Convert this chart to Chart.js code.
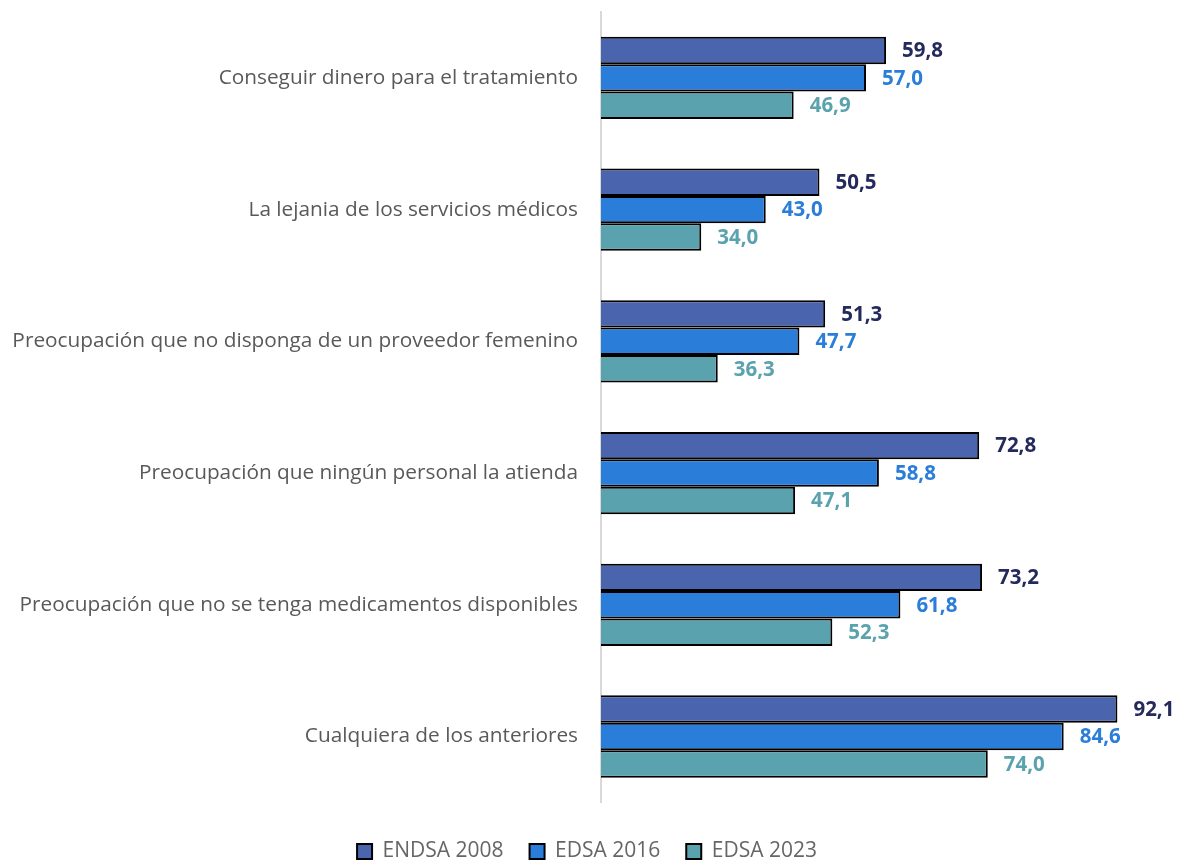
<!DOCTYPE html>
<html>
<head>
<meta charset="utf-8">
<script src="https://cdn.jsdelivr.net/npm/chart.js@4/dist/chart.umd.min.js"></script>
<style>
  body { margin: 0; background: #fff; }
  canvas { display: block; }
</style>
</head>
<body>
<canvas id="chart" width="1179" height="860"></canvas>
<script>
const categories = [
  "Conseguir dinero para el tratamiento",
  "La lejania de los servicios médicos",
  "Preocupación que no disponga de un proveedor femenino",
  "Preocupación que ningún personal la atienda",
  "Preocupación que no se tenga medicamentos disponibles",
  "Cualquiera de los anteriores"
];
const endsa2008 = [59.8, 50.5, 51.3, 72.8, 73.2, 92.1];
const edsa2016 = [57.0, 43.0, 47.7, 58.8, 61.8, 84.6];
const edsa2023 = [46.9, 34.0, 36.3, 47.1, 52.3, 74.0];

const fontFam = "'Open Sans', sans-serif";

// draws the value next to each bar, with a comma decimal
const valueLabels = {
  id: "valueLabels",
  afterDatasetsDraw(chart) {
    const ctx = chart.ctx;
    ctx.save();
    ctx.font = "bold 20.5px " + fontFam;
    ctx.textBaseline = "middle";
    ctx.textAlign = "left";
    chart.data.datasets.forEach((ds, i) => {
      chart.getDatasetMeta(i).data.forEach((bar, j) => {
        ctx.fillStyle = ds.labelColor;
        ctx.fillText(ds.data[j].toFixed(1).replace(".", ","), bar.x + 16, bar.y + 1);
      });
    });
    ctx.restore();
  }
};

new Chart(document.getElementById("chart"), {
  type: "bar",
  data: {
    labels: categories,
    datasets: [
      { label: "ENDSA 2008", data: endsa2008, backgroundColor: "#4A65AD", labelColor: "#252A5C" },
      { label: "EDSA 2016", data: edsa2016, backgroundColor: "#2A7DD8", labelColor: "#2A7DD8" },
      { label: "EDSA 2023", data: edsa2023, backgroundColor: "#5AA2AD", labelColor: "#5AA2AD" }
    ]
  },
  options: {
    indexAxis: "y",
    responsive: false,
    animation: false,
    datasets: {
      bar: {
        borderWidth: 2,
        borderColor: "#000",
        borderSkipped: false,
        barPercentage: 1,
        categoryPercentage: 0.625
      }
    },
    layout: { padding: { top: 12, right: 5, left: 0, bottom: -12 } },
    scales: {
      x: { display: false, min: 20, max: 100 },
      y: {
        grid: { display: false },
        border: { display: true, color: "#D9D9D9", width: 2 },
        ticks: {
          color: "#595959",
          font: { family: fontFam, size: 20.8 },
          padding: 15
        },
        afterFit(scale) {
          scale.width = 601;
          scale.paddingTop = 0;
          scale.paddingBottom = 0;
        }
      }
    },
    plugins: {
      tooltip: { enabled: false },
      legend: {
        position: "bottom",
        title: { display: true, text: "", font: { size: 8 }, padding: { top: 0, bottom: 3 } },
        labels: {
          color: "#595959",
          font: { family: fontFam, size: 21 },
          boxWidth: 15,
          boxHeight: 15,
          padding: 26,
          generateLabels(chart) {
            return chart.data.datasets.map((ds, i) => ({
              text: ds.label,
              fillStyle: ds.backgroundColor,
              strokeStyle: "#000",
              lineWidth: 2,
              datasetIndex: i
            }));
          }
        }
      }
    }
  },
  plugins: [valueLabels]
});
</script>
</body>
</html>
